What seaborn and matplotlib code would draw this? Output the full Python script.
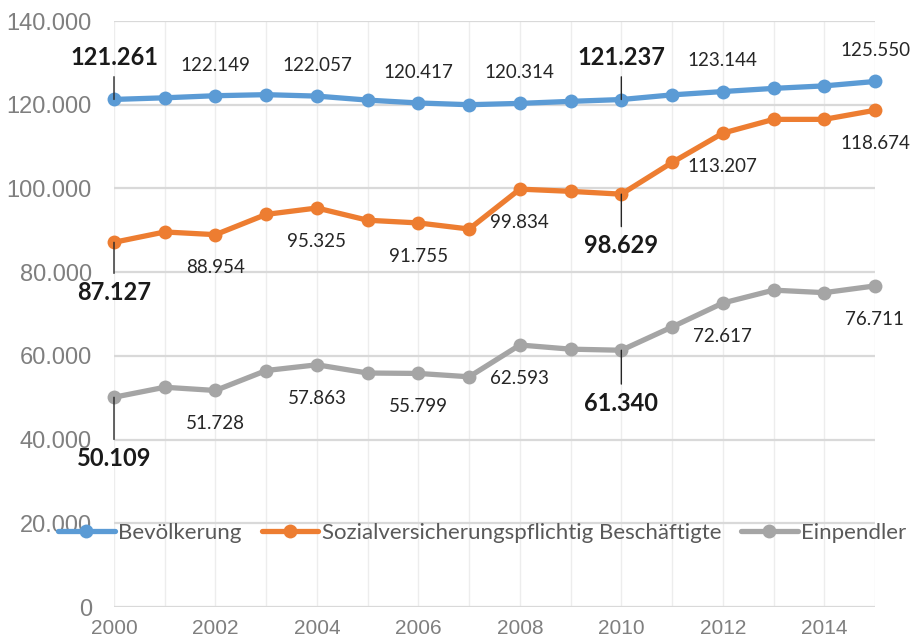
import numpy as np
import pandas as pd
import matplotlib
matplotlib.use("Agg")
import matplotlib.pyplot as plt
from matplotlib.lines import Line2D
import seaborn as sns

# Data
years = list(range(2000, 2016))
bevoelkerung = [121261, 121650, 122149, 122400, 122057, 121100, 120417, 120000,
                120314, 120800, 121237, 122350, 123144, 123900, 124500, 125550]
beschaeftigte = [87127, 89600, 88954, 93800, 95325, 92400, 91755, 90300,
                 99834, 99300, 98629, 106200, 113207, 116500, 116500, 118674]
einpendler = [50109, 52500, 51728, 56500, 57863, 55900, 55799, 55000,
              62593, 61600, 61340, 66900, 72617, 75700, 75100, 76711]
series_names = ["Bevölkerung", "Sozialversicherungspflichtig Beschäftigte", "Einpendler"]
label_years = [2000, 2002, 2004, 2006, 2008, 2010, 2012, 2015]
highlight_years = [2000, 2010]

colors = ["#5B9BD5", "#ED7D31", "#A5A5A5"]

df = pd.DataFrame({
    "Jahr": years * 3,
    "Wert": bevoelkerung + beschaeftigte + einpendler,
    "Serie": [series_names[0]] * 16 + [series_names[1]] * 16 + [series_names[2]] * 16,
})

sns.set_style("white")
plt.rcParams["font.family"] = ["Liberation Sans", "DejaVu Sans"]

fig = plt.figure(figsize=(9.15, 6.43), dpi=100)
ax = fig.add_axes([114 / 915, 1 - 607 / 643, (875 - 114) / 915, (607 - 21) / 643])

sns.lineplot(data=df, x="Jahr", y="Wert", hue="Serie", palette=colors,
             marker="o", markersize=10, markeredgewidth=0, linewidth=3.8,
             legend=False, ax=ax)
for ln in ax.lines:
    ln.set_clip_on(False)
    ln.set_solid_capstyle("round")

ax.set_xlim(2000, 2015)
ax.set_ylim(0, 140000)
ax.set_xticks(range(2000, 2015, 2))
ax.set_xticks(range(2001, 2016, 2), minor=True)
ax.set_yticks(range(0, 140001, 20000))
ax.set_yticklabels([f"{v:,}".replace(",", ".") for v in range(0, 140001, 20000)])
ax.tick_params(axis="y", length=0, pad=16, labelsize=17, labelcolor="#7F7F7F")
ax.tick_params(axis="x", which="both", length=0, pad=9, labelsize=15, labelcolor="#7F7F7F")
ax.set_xlabel("")
ax.set_ylabel("")
ax.grid(axis="y", color="#D9D9D9", linewidth=1.6)
ax.grid(axis="x", which="both", color="#EDEDED", linewidth=1.0)
ax.set_axisbelow(True)
for spine in ax.spines.values():
    spine.set_visible(False)

# Data labels
label_font = ["Lato", "DejaVu Sans"]
offsets = {  # (normal offset, highlight offsets for 2000 / 2010) in points
    0: (22, {2000: 30, 2010: 30}),
    1: (-24, {2000: -36, 2010: -37}),
    2: (-24, {2000: -44, 2010: -38}),
}
for i, values in enumerate([bevoelkerung, beschaeftigte, einpendler]):
    normal, special = offsets[i]
    for yr in label_years:
        v = values[years.index(yr)]
        txt = f"{v:,}".replace(",", ".")
        if yr in highlight_years:
            ax.annotate(txt, xy=(yr, v), xytext=(0, special[yr]), textcoords="offset points",
                        ha="center", va="center", fontsize=17, fontweight="bold",
                        color="#1A1A1A", family=label_font, annotation_clip=False,
                        arrowprops=dict(arrowstyle="-", color="#262626", lw=1.0,
                                        shrinkA=3, shrinkB=0), zorder=5)
        else:
            ax.annotate(txt, xy=(yr, v), xytext=(0, normal), textcoords="offset points",
                        ha="center", va="center", fontsize=13.5, color="#262626",
                        family=label_font, annotation_clip=False, zorder=5)

# Legend
handles = [Line2D([0], [0], color=c, lw=3.8, marker="o", markersize=10,
                  markeredgewidth=0, solid_capstyle="round") for c in colors]
leg = fig.legend(handles, series_names, loc="center", bbox_to_anchor=(0.527, 1 - 533 / 643),
                 ncol=3, frameon=False, handlelength=2.55, handletextpad=0.15,
                 columnspacing=0.9, prop={"family": label_font, "size": 16})
for t in leg.get_texts():
    t.set_color("#595959")

fig.savefig("out.png", dpi=100)
